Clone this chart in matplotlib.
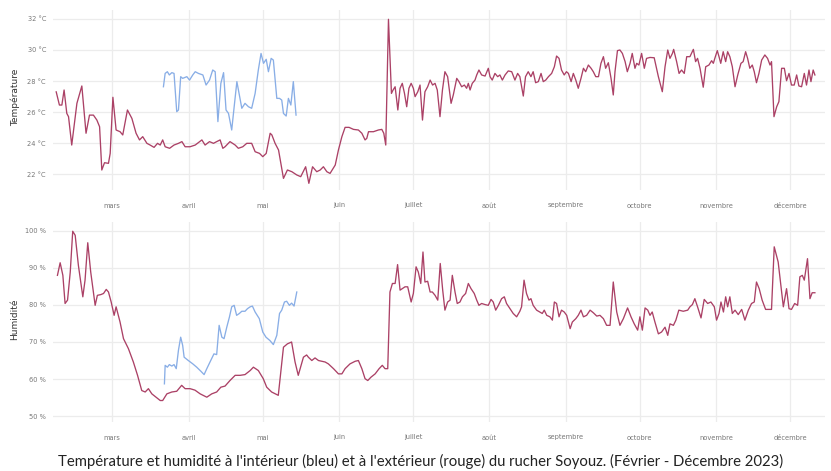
import matplotlib
matplotlib.use('Agg')
import matplotlib.pyplot as plt
import numpy as np
import pandas as pd

# ---------------- data (day-of-year offset from 2023-01-01, value) ----------------
red_temp = [
    (36.3, 27.3), (37.6, 26.45), (38.6, 26.45), (39.5, 27.42), (40.6, 25.91), (41.3, 25.7),
    (42.6, 23.87), (44.7, 26.56), (46.7, 27.68), (48.4, 24.63), (49.8, 25.8), (51.4, 25.8),
    (52.8, 25.48), (53.9, 25.05), (54.8, 22.26), (55.9, 22.73), (57.5, 22.69), (58.2, 23.33),
    (59.3, 26.95), (60.6, 24.84), (62.2, 24.73), (63.3, 24.52), (65.2, 26.13), (67.0, 25.59),
    (68.7, 24.63), (70.1, 24.2), (71.4, 24.41), (73.1, 23.98), (74.4, 23.87), (76.0, 23.72),
    (77.4, 23.98), (78.5, 23.87), (79.5, 24.2), (80.5, 23.76), (82.3, 23.66), (84.1, 23.87),
    (85.9, 23.98), (87.3, 24.09), (88.6, 23.76), (90.6, 23.76), (92.7, 23.87), (95.4, 24.2),
    (96.7, 23.87), (98.5, 24.09), (100.1, 23.98), (101.4, 24.09), (102.8, 24.2), (103.9, 23.66),
    (104.8, 23.76), (106.8, 24.09), (108.9, 23.87), (110.2, 23.66), (112.0, 23.76), (113.6, 23.98),
    (115.6, 23.98), (117.0, 23.44), (118.8, 23.33), (120.1, 23.12), (121.5, 23.33), (123.1, 24.63),
    (123.8, 24.52), (125.1, 23.98), (126.5, 23.55), (128.5, 21.72), (130.1, 22.26), (131.9, 22.15),
    (133.9, 21.94), (135.5, 21.83), (137.5, 22.47), (138.8, 21.4), (140.3, 22.47), (142.0, 22.15),
    (143.4, 22.26), (144.7, 22.47), (146.1, 22.15), (147.4, 22.04), (149.5, 22.58), (150.8, 23.55),
    (152.2, 24.41), (153.5, 25.01), (155.1, 25.01), (156.9, 24.88), (158.9, 24.84), (160.3, 24.63),
    (161.6, 24.2), (162.3, 24.3), (163.0, 24.73), (165.0, 24.73), (167.0, 24.84), (168.4, 24.88),
    (169.2, 24.63), (170.0, 23.87), (171.1, 31.98), (172.3, 27.2), (172.9, 27.4), (173.8, 27.63),
    (174.9, 26.13), (175.8, 27.53), (176.7, 27.85), (177.6, 27.2), (178.5, 26.34), (179.4, 27.53),
    (180.3, 27.85), (181.2, 27.53), (181.9, 26.99), (183.0, 27.31), (183.9, 27.74), (184.9, 25.48),
    (185.9, 27.31), (187.0, 27.63), (188.0, 28.06), (189.0, 27.74), (190.0, 27.85), (190.9, 27.42),
    (192.0, 25.7), (193.0, 27.42), (194.0, 28.6), (195.1, 28.28), (196.5, 26.56), (197.4, 27.1),
    (198.8, 28.17), (199.7, 27.96), (200.8, 27.63), (201.9, 27.74), (202.8, 27.53), (203.5, 27.85),
    (204.2, 27.42), (205.1, 27.85), (206.2, 28.06), (206.9, 28.39), (207.8, 28.71), (208.9, 28.39),
    (210.3, 28.32), (211.6, 28.82), (212.3, 28.28), (213.2, 28.06), (214.3, 28.49), (215.4, 28.28),
    (216.3, 28.39), (217.3, 28.06), (218.4, 28.39), (219.7, 28.65), (221.1, 28.6), (222.4, 28.06),
    (223.5, 28.49), (224.4, 28.28), (225.8, 27.03), (226.7, 28.28), (227.8, 28.6), (228.9, 28.28),
    (229.8, 28.6), (230.8, 27.89), (231.9, 27.96), (233.0, 28.49), (233.9, 27.96), (234.9, 28.06),
    (236.0, 28.28), (237.3, 28.49), (238.4, 28.92), (239.3, 29.61), (240.3, 29.46), (241.3, 28.71),
    (242.4, 28.39), (243.3, 28.6), (244.1, 28.49), (245.2, 27.96), (246.1, 28.49), (247.1, 28.06),
    (248.1, 27.53), (249.2, 28.17), (250.2, 28.82), (251.1, 28.6), (252.2, 29.03), (253.3, 28.82),
    (254.2, 28.6), (255.2, 28.28), (256.3, 28.28), (257.3, 29.14), (258.3, 29.57), (259.2, 28.82),
    (260.3, 29.18), (261.4, 28.17), (262.3, 27.1), (263.0, 28.6), (264.0, 29.96), (265.0, 30.0),
    (266.0, 29.78), (267.1, 29.25), (268.0, 28.6), (269.1, 29.14), (270.0, 29.78), (271.1, 28.82),
    (271.8, 29.14), (272.7, 29.03), (273.8, 29.78), (274.9, 28.82), (275.8, 29.46), (277.2, 29.52),
    (278.9, 29.5), (280.6, 28.28), (282.2, 27.31), (283.3, 28.92), (284.4, 30.0), (285.3, 29.46),
    (286.3, 29.78), (286.8, 30.04), (288.0, 29.25), (289.0, 28.49), (290.0, 28.71), (291.1, 28.49),
    (292.1, 29.57), (293.4, 29.57), (294.8, 30.04), (295.7, 29.25), (296.5, 29.46), (297.5, 28.82),
    (298.8, 27.6), (299.8, 28.92), (301.1, 29.03), (302.2, 29.31), (302.9, 29.14), (303.5, 29.46),
    (304.5, 29.96), (305.2, 29.57), (305.9, 29.14), (306.9, 29.89), (307.9, 29.25), (308.7, 29.89),
    (309.6, 29.57), (310.6, 28.92), (311.7, 27.63), (312.8, 28.39), (314.1, 29.14), (315.0, 29.25),
    (316.0, 29.89), (316.8, 29.46), (317.7, 28.82), (318.7, 29.03), (319.5, 28.6), (320.4, 27.89),
    (321.4, 28.49), (322.5, 29.35), (323.8, 29.68), (324.9, 29.46), (325.9, 29.03), (326.5, 29.25),
    (327.5, 25.7), (328.6, 26.34), (329.5, 26.67), (330.6, 28.82), (331.7, 28.82), (332.6, 28.02),
    (333.6, 28.49), (334.6, 27.74), (335.7, 27.74), (336.7, 28.39), (337.6, 27.68), (338.7, 27.63),
    (339.8, 28.49), (340.7, 27.74), (341.7, 28.71), (342.5, 27.96), (343.4, 28.71), (344.1, 28.39),
]

blue_temp = [
    (79.8, 27.63), (80.5, 28.49), (81.4, 28.6), (82.2, 28.39), (83.2, 28.54), (84.1, 28.49),
    (85.2, 26.02), (85.9, 26.13), (86.8, 28.28), (87.6, 28.17), (89.3, 28.28), (90.4, 28.06),
    (91.7, 28.39), (92.7, 28.6), (94.0, 28.49), (95.8, 28.39), (97.1, 27.74), (98.5, 28.06),
    (99.8, 28.71), (100.8, 28.6), (101.9, 25.38), (103.1, 27.85), (104.2, 28.54), (105.2, 26.13),
    (106.2, 25.91), (107.5, 24.84), (108.5, 26.34), (109.6, 27.96), (110.6, 27.1), (111.6, 26.24),
    (112.9, 26.56), (114.3, 26.34), (115.6, 26.24), (117.0, 27.2), (118.3, 28.71), (119.4, 29.78),
    (120.4, 29.14), (121.5, 29.4), (122.4, 28.6), (123.5, 29.46), (124.4, 29.35), (125.8, 26.88),
    (126.9, 26.88), (127.8, 26.77), (128.5, 25.91), (129.6, 25.74), (130.5, 26.88), (131.5, 26.45),
    (132.5, 27.96), (133.6, 25.8),
]

red_hum = [
    (36.8, 88.0), (37.9, 91.4), (39.0, 88.0), (39.9, 80.4), (40.9, 81.3), (42.0, 88.9),
    (43.0, 99.9), (44.0, 98.8), (45.3, 90.7), (47.1, 82.2), (48.0, 86.7), (49.1, 96.8),
    (50.3, 88.9), (52.1, 79.9), (53.0, 82.6), (54.4, 82.8), (55.5, 83.1), (56.6, 84.2),
    (57.5, 83.5), (58.6, 80.8), (59.8, 77.2), (60.6, 79.5), (62.2, 75.4), (63.6, 70.9),
    (65.6, 68.2), (67.6, 64.6), (69.3, 61.0), (71.0, 56.9), (72.4, 56.5), (73.7, 57.4),
    (75.1, 56.0), (76.8, 55.1), (78.5, 54.2), (79.5, 54.2), (81.2, 56.0), (83.2, 56.5),
    (85.2, 56.7), (87.2, 58.3), (88.6, 57.4), (90.6, 57.4), (92.6, 57.0), (94.7, 56.0),
    (97.4, 55.1), (99.4, 56.0), (101.4, 56.5), (103.1, 57.8), (104.8, 58.1), (106.8, 59.6),
    (108.9, 61.0), (110.9, 61.0), (112.9, 61.2), (115.0, 62.3), (116.3, 63.2), (118.3, 62.3),
    (120.3, 60.1), (121.7, 57.8), (123.7, 56.5), (126.4, 55.6), (128.5, 68.6), (130.1, 69.5),
    (131.8, 70.0), (133.2, 64.6), (134.5, 61.0), (136.6, 65.9), (137.9, 66.5), (138.6, 65.9),
    (140.0, 65.0), (141.3, 65.7), (142.7, 65.0), (144.0, 64.8), (145.4, 64.6), (146.7, 64.1),
    (148.8, 62.8), (150.8, 61.4), (152.2, 61.4), (153.5, 62.8), (155.5, 64.1), (157.6, 64.8),
    (158.9, 65.0), (160.3, 62.8), (161.6, 60.1), (162.7, 59.6), (164.0, 60.5), (165.7, 61.4),
    (167.3, 62.8), (168.6, 63.7), (169.7, 62.8), (170.8, 62.8), (171.7, 83.5), (172.7, 85.8),
    (173.8, 85.8), (174.8, 90.9), (175.8, 84.0), (176.7, 84.4), (177.8, 84.9), (178.9, 84.9),
    (180.3, 80.8), (181.2, 83.1), (182.3, 90.3), (183.2, 88.9), (184.2, 85.8), (185.1, 94.3),
    (185.9, 86.2), (187.0, 86.4), (188.0, 83.5), (188.9, 83.5), (190.0, 82.6), (191.1, 81.3),
    (192.1, 91.2), (193.1, 84.0), (194.0, 78.6), (195.1, 80.8), (196.1, 81.3), (197.0, 88.0),
    (198.1, 83.5), (199.0, 80.4), (200.1, 80.8), (201.1, 82.2), (202.4, 83.1), (203.5, 85.8),
    (204.6, 84.4), (205.9, 83.1), (206.9, 81.3), (207.8, 79.9), (208.9, 80.4), (210.3, 80.1),
    (211.6, 79.9), (212.7, 81.5), (213.6, 80.8), (214.6, 78.6), (215.7, 79.9), (217.0, 81.7),
    (218.1, 82.2), (219.0, 80.4), (220.4, 79.0), (221.7, 77.7), (223.1, 76.8), (224.4, 78.3),
    (225.1, 79.5), (226.1, 86.7), (227.1, 83.1), (228.1, 81.3), (228.9, 81.7), (229.8, 79.9),
    (231.2, 78.6), (232.5, 78.1), (233.5, 77.7), (234.3, 78.6), (235.3, 77.2), (236.6, 76.8),
    (237.6, 75.9), (238.4, 80.8), (239.3, 80.4), (240.3, 76.8), (241.3, 78.6), (242.4, 78.1),
    (243.4, 77.2), (244.8, 73.6), (245.7, 75.4), (247.1, 76.3), (248.1, 77.2), (249.2, 78.6),
    (250.2, 76.8), (251.5, 77.2), (252.9, 78.6), (254.2, 77.9), (255.6, 77.0), (256.9, 77.2),
    (258.3, 76.3), (259.6, 74.5), (261.0, 74.5), (262.3, 86.2), (263.7, 78.1), (265.0, 74.5),
    (266.4, 76.3), (268.1, 79.2), (269.5, 76.8), (270.8, 74.9), (272.2, 73.2), (273.1, 76.8),
    (274.1, 73.2), (275.2, 79.2), (276.3, 78.6), (277.2, 77.2), (278.1, 78.1), (279.2, 75.4),
    (280.6, 72.2), (281.9, 72.7), (283.3, 74.0), (284.4, 71.8), (285.3, 74.9), (286.7, 74.5),
    (287.7, 75.9), (288.9, 78.6), (290.7, 78.3), (292.5, 78.6), (293.4, 79.5), (294.4, 80.1),
    (295.4, 81.7), (296.5, 79.5), (297.9, 76.5), (299.2, 81.5), (300.6, 80.4), (301.9, 80.8),
    (303.3, 79.5), (304.2, 75.9), (305.2, 77.7), (306.0, 80.8), (307.0, 78.1), (307.9, 82.2),
    (308.7, 79.5), (309.6, 82.2), (310.6, 77.7), (311.7, 78.6), (313.0, 77.4), (314.4, 78.8),
    (315.7, 75.9), (317.1, 78.6), (318.4, 80.4), (319.5, 80.8), (320.4, 86.2), (321.5, 84.4),
    (322.7, 81.3), (324.1, 78.8), (325.4, 78.8), (326.5, 78.8), (327.6, 95.7), (329.2, 91.6),
    (330.3, 85.3), (331.3, 79.5), (332.6, 84.4), (333.6, 79.0), (334.6, 78.8), (335.9, 80.4),
    (337.1, 79.9), (338.0, 87.6), (339.0, 88.0), (339.8, 86.7), (341.1, 92.5), (342.1, 81.7),
    (343.0, 83.3), (344.1, 83.3),
]

blue_hum = [
    (80.2, 58.7), (80.5, 63.7), (81.4, 63.2), (82.2, 63.9), (83.2, 63.5), (84.1, 63.9),
    (85.0, 62.8), (85.9, 67.8), (86.8, 71.3), (87.6, 69.1), (88.2, 65.9), (89.9, 65.0),
    (91.7, 64.1), (93.3, 63.2), (95.0, 62.1), (96.3, 61.2), (97.4, 62.8), (98.7, 64.6),
    (100.3, 66.8), (101.4, 66.6), (102.4, 74.5), (103.5, 71.3), (104.4, 70.9), (105.5, 74.0),
    (106.6, 76.8), (107.5, 79.5), (108.5, 79.9), (109.5, 77.2), (110.6, 77.7), (111.6, 78.3),
    (112.9, 78.3), (113.9, 79.0), (115.0, 79.5), (115.9, 79.7), (117.0, 78.1), (118.7, 76.3),
    (120.1, 72.7), (121.4, 71.3), (123.0, 70.4), (124.4, 69.3), (125.8, 71.8), (126.9, 77.7),
    (127.8, 78.6), (128.9, 80.8), (129.8, 81.0), (130.9, 79.9), (131.8, 80.5), (132.8, 79.7),
    (133.9, 83.5),
]

month_labels = ["mars", "avril", "mai", "juin", "juillet", "août",
                "septembre", "octobre", "novembre", "décembre"]
temp_ticks = [22, 24, 26, 28, 30, 32]
hum_ticks = [50, 60, 70, 80, 90, 100]
caption = ("Température et humidité à l'intérieur (bleu) et à l'extérieur (rouge) "
           "du rucher Soyouz. (Février - Décembre 2023)")

# ---------------- helpers ----------------
YEAR_START = pd.Timestamp("2023-01-01")


def to_series(pairs):
    d = np.array([p[0] for p in pairs], dtype=float)
    v = np.array([p[1] for p in pairs], dtype=float)
    return YEAR_START + pd.to_timedelta(d, unit="D"), v


RED = "#ab4166"
BLUE = "#89aee6"
GRID = "#ececec"
TICK_COL = "#777777"

month_starts = pd.date_range("2023-03-01", "2023-12-01", freq="MS")
x_lo = YEAR_START + pd.to_timedelta(35.0, unit="D")
x_hi = YEAR_START + pd.to_timedelta(348.2, unit="D")

W, H = 831, 471
fig = plt.figure(figsize=(W / 100, H / 100), dpi=100)
fig.patch.set_facecolor("white")

ax1 = fig.add_axes([53 / W, 1 - 190 / H, 772 / W, 180 / H])
ax2 = fig.add_axes([53 / W, 1 - 422 / H, 772 / W, 200 / H])


def style(ax, yticks, fmt, ylim):
    ax.set_xlim(x_lo, x_hi)
    ax.set_ylim(*ylim)
    ax.set_xticks(month_starts)
    ax.set_xticklabels(month_labels)
    ax.set_yticks(yticks)
    ax.set_yticklabels([fmt.format(v) for v in yticks])
    for s in ax.spines.values():
        s.set_visible(False)
    ax.grid(True, color=GRID, linewidth=0.9)
    ax.set_axisbelow(True)
    ax.tick_params(axis="both", length=0, labelsize=4.8, colors=TICK_COL)
    ax.tick_params(axis="x", pad=9)
    ax.tick_params(axis="y", pad=5)


xr, yr = to_series(red_temp)
xb, yb = to_series(blue_temp)
ax1.plot(xr, yr, color=RED, linewidth=0.95, solid_joinstyle="round")
ax1.plot(xb, yb, color=BLUE, linewidth=0.95, solid_joinstyle="round")
style(ax1, temp_ticks, "{} °C", (20.97, 32.58))

xr2, yr2 = to_series(red_hum)
xb2, yb2 = to_series(blue_hum)
ax2.plot(xr2, yr2, color=RED, linewidth=0.95, solid_joinstyle="round")
ax2.plot(xb2, yb2, color=BLUE, linewidth=0.95, solid_joinstyle="round")
style(ax2, hum_ticks, "{} %", (48.4, 102.4))

fig.text(15 / W, 1 - 97 / H, "Température", rotation=90, ha="center", va="center",
         fontsize=6.5, color="#333333")
fig.text(15 / W, 1 - 319 / H, "Humidité", rotation=90, ha="center", va="center",
         fontsize=6.5, color="#333333")

fig.text(421 / W, 1 - 461 / H, caption, ha="center", va="center",
         fontsize=10.7, color="#222222", family=["Lato", "DejaVu Sans"])

fig.savefig("out.png", dpi=100, facecolor="white")
